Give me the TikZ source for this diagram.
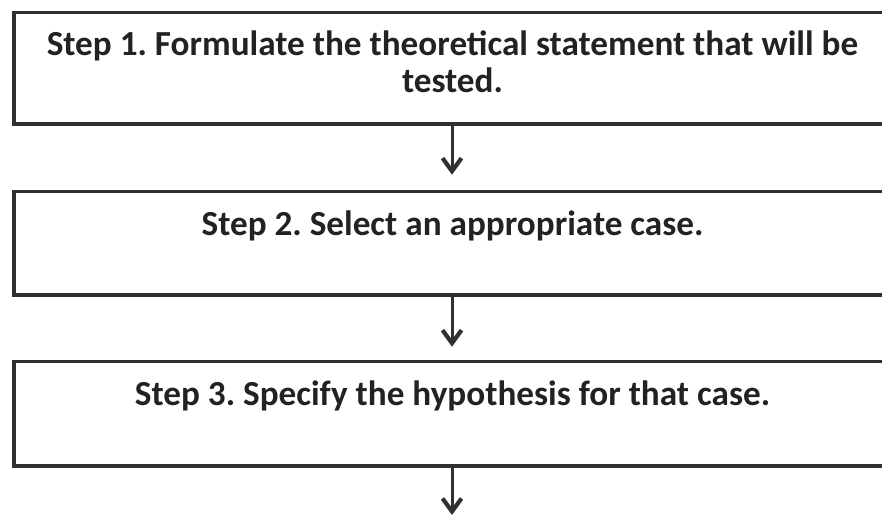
\documentclass[tikz,border=0pt]{standalone}
\usepackage{fontspec}
\setmainfont{Carlito}
\usetikzlibrary{arrows.meta}
\definecolor{ink}{HTML}{222222}
\definecolor{frame}{HTML}{303030}
\tikzset{
  stepbox/.style={draw=frame, line width=3.6pt, rectangle, minimum width=876pt, inner sep=0pt},
  steptext/.style={text=ink, font=\bfseries\fontsize{35.2}{37}\selectfont\frenchspacing, anchor=base, inner sep=0pt},
  flow/.style={draw=frame, line width=3pt, -{Straight Barb[length=13pt, width=19pt, line width=4.2pt]}}
}
\begin{document}
\begin{tikzpicture}[x=1pt, y=-1pt]
  \useasboundingbox (0,0) rectangle (882,517);
  \clip (0,0) rectangle (882,517);
  % step boxes (right edge runs past the page edge)
  \node[stepbox, minimum height=111.5pt] (b1) at (452,68.25) {};
  \node[stepbox, minimum height=103.5pt] (b2) at (452,243.25) {};
  \node[stepbox, minimum height=104.5pt] (b3) at (452,413.75) {};
  % texts
  \node[steptext] (t1a) at (452.5,55) {Step 1. Formulate the theoretical statement that will be};
  \node[steptext] (t1b) at (452.5,92) {tested.};
  \node[steptext] (t2) at (452.5,235) {Step 2. Select an appropriate case.};
  \node[steptext] (t3) at (452.5,405) {Step 3. Specify the hypothesis for that case.};
  % connectors
  \coordinate (out) at (452,515);
  \draw[flow, shorten >=15pt] (b1.south) -- (b2.north);
  \draw[flow, shorten >=13pt] (b2.south) -- (b3.north);
  \draw[flow] (b3.south) -- (out);
\end{tikzpicture}
\end{document}
